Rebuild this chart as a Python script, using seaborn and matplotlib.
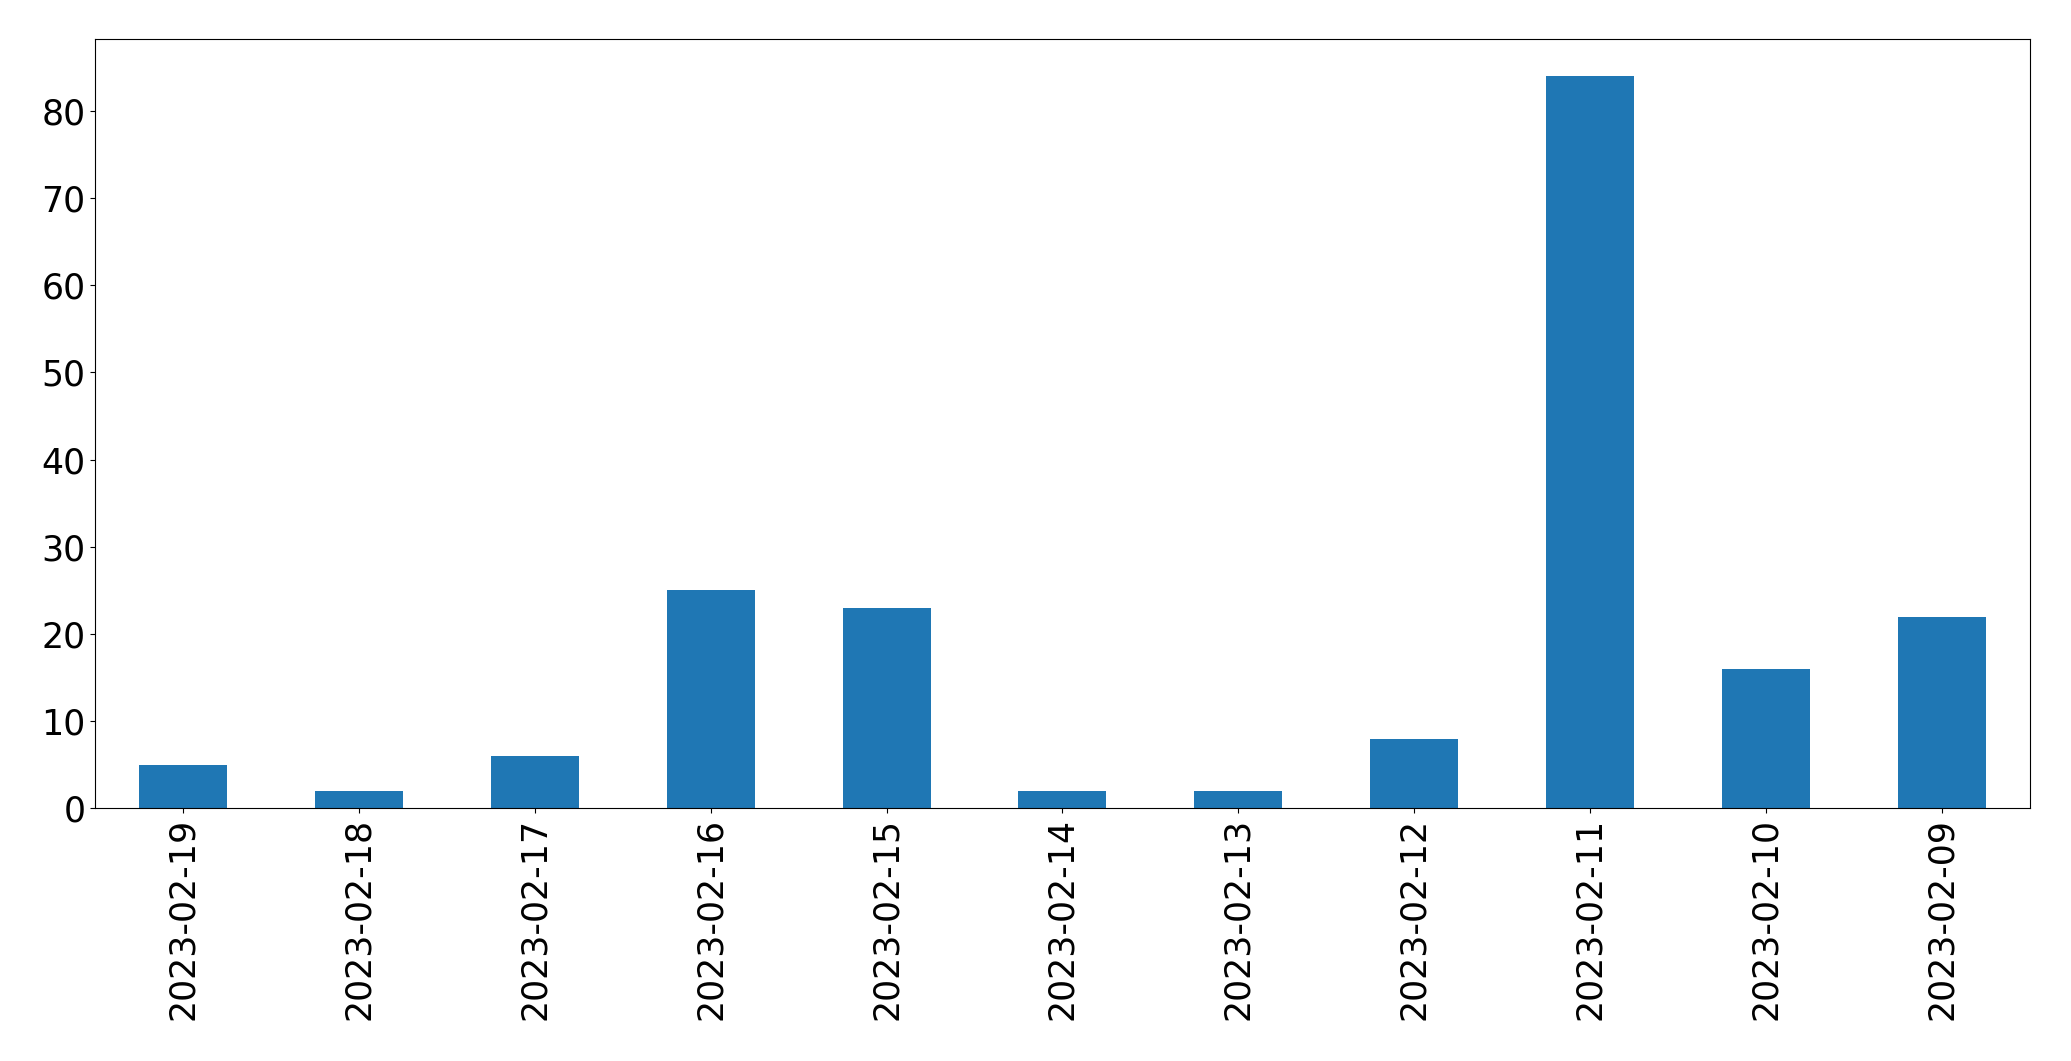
import matplotlib
matplotlib.use("Agg")
import matplotlib.pyplot as plt
import seaborn as sns
import pandas as pd

# data
dates = ["2023-02-19", "2023-02-18", "2023-02-17", "2023-02-16", "2023-02-15",
         "2023-02-14", "2023-02-13", "2023-02-12", "2023-02-11", "2023-02-10",
         "2023-02-09"]
counts = [5, 2, 6, 25, 23, 2, 2, 8, 84, 16, 22]

df = pd.DataFrame({"date": dates, "count": counts})

sns.set_style("ticks", {"axes.edgecolor": "black", "text.color": "black",
                        "xtick.color": "black", "ytick.color": "black",
                        "axes.labelcolor": "black"})
plt.rcParams['font.family'] = ['DejaVu Sans']
plt.rcParams['axes.linewidth'] = 0.8

fig, ax = plt.subplots(figsize=(20.71, 10.61), dpi=100)
fig.subplots_adjust(left=0.046, right=0.980, top=0.963, bottom=0.238)

sns.barplot(data=df, x="date", y="count", order=dates, color="#1f77b4",
            saturation=1, width=0.5, linewidth=0, ax=ax)

ax.set_xlim(-0.5, len(dates) - 0.5)
ax.set_ylim(0, max(counts) * 1.05)
ax.set_xlabel("")
ax.set_ylabel("")
ax.tick_params(axis="x", labelrotation=90, labelsize=25, colors="black")
ax.tick_params(axis="y", labelsize=25, colors="black")
for s in ax.spines.values():
    s.set_visible(True)
    s.set_color("black")

fig.savefig("out.png", dpi=100)
